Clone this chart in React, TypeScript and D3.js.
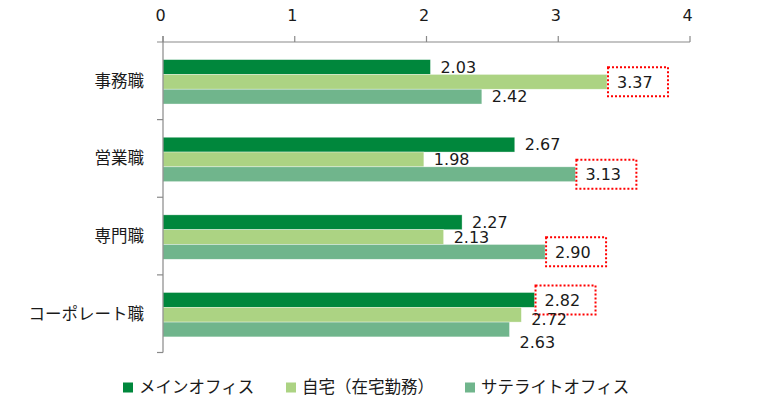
import React, { useEffect, useRef } from 'react';
import * as d3 from 'd3';

const categories = ['事務職', '営業職', '専門職', 'コーポレート職'];
const seriesNames = ['メインオフィス', '自宅（在宅勤務）', 'サテライトオフィス'];
const mainOffice = [2.03, 2.67, 2.27, 2.82];
const home = [3.37, 1.98, 2.13, 2.72];
const satellite = [2.42, 3.13, 2.9, 2.63];
const xTicks = [0, 1, 2, 3, 4];

const colors = ['#00873c', '#acd383', '#70b58c'];
// hand-moved labels in the original (series index, category index -> dy)
const labelNudge: Record<string, number> = { '1-3': 5, '2-3': 13 };

const W = 778;
const H = 400;
const margin = { top: 42, right: 88, bottom: 47.5, left: 163 };
const font = '"DejaVu Sans", "Noto Sans CJK JP", sans-serif';
const jpFont = '"Noto Sans CJK JP", sans-serif';

const App: React.FC = () => {
  const svgRef = useRef<SVGSVGElement>(null);

  useEffect(() => {
    if (!svgRef.current) return;
    const svg = d3.select(svgRef.current);
    svg.selectAll('*').remove();

    const series = [mainOffice, home, satellite];
    const x = d3.scaleLinear().domain([0, 4]).range([margin.left, W - margin.right]);
    const y = d3.scaleBand().domain(categories).range([margin.top, H - margin.bottom]);
    const barH = 14.8;
    const axisColor = '#898989';

    // bars
    categories.forEach((cat, ci) => {
      const groupTop = (y(cat) as number) + y.bandwidth() / 2 - (barH * 3) / 2 + 1;
      const maxVal = d3.max(series, s => s[ci]) as number;
      series.forEach((s, si) => {
        const v = s[ci];
        const by = groupTop + si * barH;
        svg.append('rect')
          .attr('x', x(0))
          .attr('y', by)
          .attr('width', x(v) - x(0))
          .attr('height', barH)
          .attr('fill', colors[si])
          .attr('stroke', '#ffffff')
          .attr('stroke-opacity', 0.6)
          .attr('stroke-width', 0.6);
        const cy = by + barH / 2 + (labelNudge[`${si}-${ci}`] || 0);
        if (v === maxVal) {
          svg.append('rect')
            .attr('x', x(v) + 1)
            .attr('y', cy - 14.5)
            .attr('width', 60)
            .attr('height', 29)
            .attr('fill', 'none')
            .attr('stroke', '#ff0000')
            .attr('stroke-width', 2)
            .attr('stroke-dasharray', '2,2');
        }
        svg.append('text')
          .attr('x', x(v) + 10)
          .attr('y', cy)
          .attr('dy', '0.36em')
          .attr('font-family', font)
          .attr('font-size', 16)
          .attr('fill', '#1a1a1a')
          .text(v.toFixed(2));
      });
    });

    // x axis (top)
    svg.append('line')
      .attr('x1', margin.left - 6).attr('x2', x(4))
      .attr('y1', margin.top).attr('y2', margin.top)
      .attr('stroke', axisColor).attr('stroke-width', 1.2);
    xTicks.forEach(t => {
      svg.append('line')
        .attr('x1', x(t)).attr('x2', x(t))
        .attr('y1', margin.top - 6).attr('y2', margin.top)
        .attr('stroke', axisColor).attr('stroke-width', 1.2);
      svg.append('text')
        .attr('x', x(t) - 2.5)
        .attr('y', 15)
        .attr('dy', '0.36em')
        .attr('text-anchor', 'middle')
        .attr('font-family', font)
        .attr('font-size', 16)
        .attr('fill', '#1a1a1a')
        .text(t);
    });

    // y axis
    svg.append('line')
      .attr('x1', margin.left).attr('x2', margin.left)
      .attr('y1', margin.top - 6).attr('y2', H - margin.bottom)
      .attr('stroke', axisColor).attr('stroke-width', 1.2);
    const bounds = categories.map(c => y(c) as number).concat([H - margin.bottom]);
    bounds.slice(1).forEach(b => {
      svg.append('line')
        .attr('x1', margin.left - 6).attr('x2', margin.left)
        .attr('y1', b).attr('y2', b)
        .attr('stroke', axisColor).attr('stroke-width', 1.2);
    });
    categories.forEach(cat => {
      svg.append('text')
        .attr('x', 144)
        .attr('y', (y(cat) as number) + y.bandwidth() / 2)
        .attr('dy', '0.36em')
        .attr('text-anchor', 'end')
        .attr('font-family', jpFont)
        .attr('font-size', 16.5)
        .attr('fill', '#1a1a1a')
        .text(cat);
    });

    // legend
    const legendX = [123, 286, 465];
    const legendY = 387.5;
    seriesNames.forEach((name, i) => {
      svg.append('rect')
        .attr('x', legendX[i])
        .attr('y', legendY - 5)
        .attr('width', 10)
        .attr('height', 10)
        .attr('fill', colors[i]);
      svg.append('text')
        .attr('x', legendX[i] + 16)
        .attr('y', legendY)
        .attr('dy', '0.36em')
        .attr('font-family', jpFont)
        .attr('font-size', 16.5)
        .attr('fill', '#1a1a1a')
        .text(name);
    });
  }, []);

  return (
    <div style={{ position: 'absolute', left: 0, top: 0 }}>
      <svg ref={svgRef} width={W} height={H} style={{ display: 'block', background: '#ffffff' }} />
    </div>
  );
};

export default App;
